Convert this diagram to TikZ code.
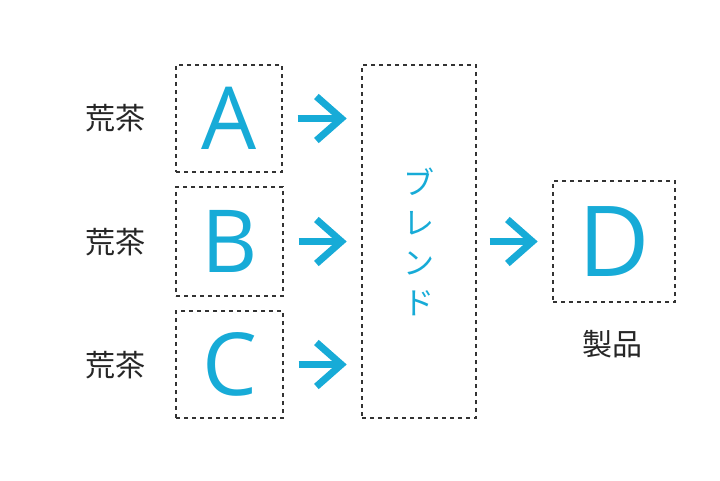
\documentclass[tikz,border=0pt]{standalone}
\usepackage{fontspec}
\newfontfamily\jpfont{Noto Sans CJK JP}
\newfontfamily\latfont{Open Sans}
\usetikzlibrary{calc}
\definecolor{teal1}{HTML}{17ABD7}
\definecolor{dashgray}{HTML}{333333}
\tikzset{
  dbox/.style={draw=dashgray, line width=1.2pt, dash pattern=on 4pt off 4pt, inner sep=0pt, text=teal1},
  bigletter/.style={font=\latfont\fontsize{87}{87}\selectfont},
  jplabel/.style={font=\jpfont\fontsize{30}{30}\selectfont, text=black!85, inner sep=0pt},
  shaft/.style={draw=teal1, line width=7pt, line cap=butt},
  chev/.style={draw=teal1, line width=7pt, line cap=butt, line join=miter},
}
\begin{document}
\begin{tikzpicture}[x=1pt,y=-1pt]
\useasboundingbox (0,0) rectangle (720,480);
% boxes
\node[dbox, bigletter, minimum width=106pt, minimum height=107pt] (a) at (229,118.5) {A};
\node[dbox, bigletter, minimum width=107pt, minimum height=109pt] (b) at (229.5,241.5) {B};
\node[dbox, bigletter, minimum width=107pt, minimum height=107pt] (c) at (229.5,364.5) {C};
\node[dbox, minimum width=114pt, minimum height=353pt, align=center,
      font=\jpfont\fontsize{31}{40}\selectfont] (blend) at (419,241.5) {ブ\\レ\\ン\\ド};
\node[dbox, font=\latfont\fontsize{98}{98}\selectfont, minimum width=122pt, minimum height=121pt] (d) at (614,241.5) {D};
% labels
\node[jplabel] (la) at (115,118) {荒茶};
\node[jplabel] (lb) at (115,242) {荒茶};
\node[jplabel] (lc) at (115,365) {荒茶};
\node[jplabel] (ld) at (612,344) {製品};
% arrows
\foreach \s/\t in {a/blend, b/blend, c/blend} {
  \coordinate (tip) at ($(\t.west |- \s.east)+(-20,0)$);
  \draw[shaft] ($(\s.east)+(15,0)$) -- (tip);
  \draw[chev] ($(tip)+(-25,-22)$) -- (tip) -- ($(tip)+(-25,22)$);
}
\coordinate (tipd) at ($(d.west)+(-20,0)$);
\draw[shaft] ($(blend.east |- d.west)+(13,0)$) -- (tipd);
\draw[chev] ($(tipd)+(-25,-22)$) -- (tipd) -- ($(tipd)+(-25,22)$);
\end{tikzpicture}
\end{document}
